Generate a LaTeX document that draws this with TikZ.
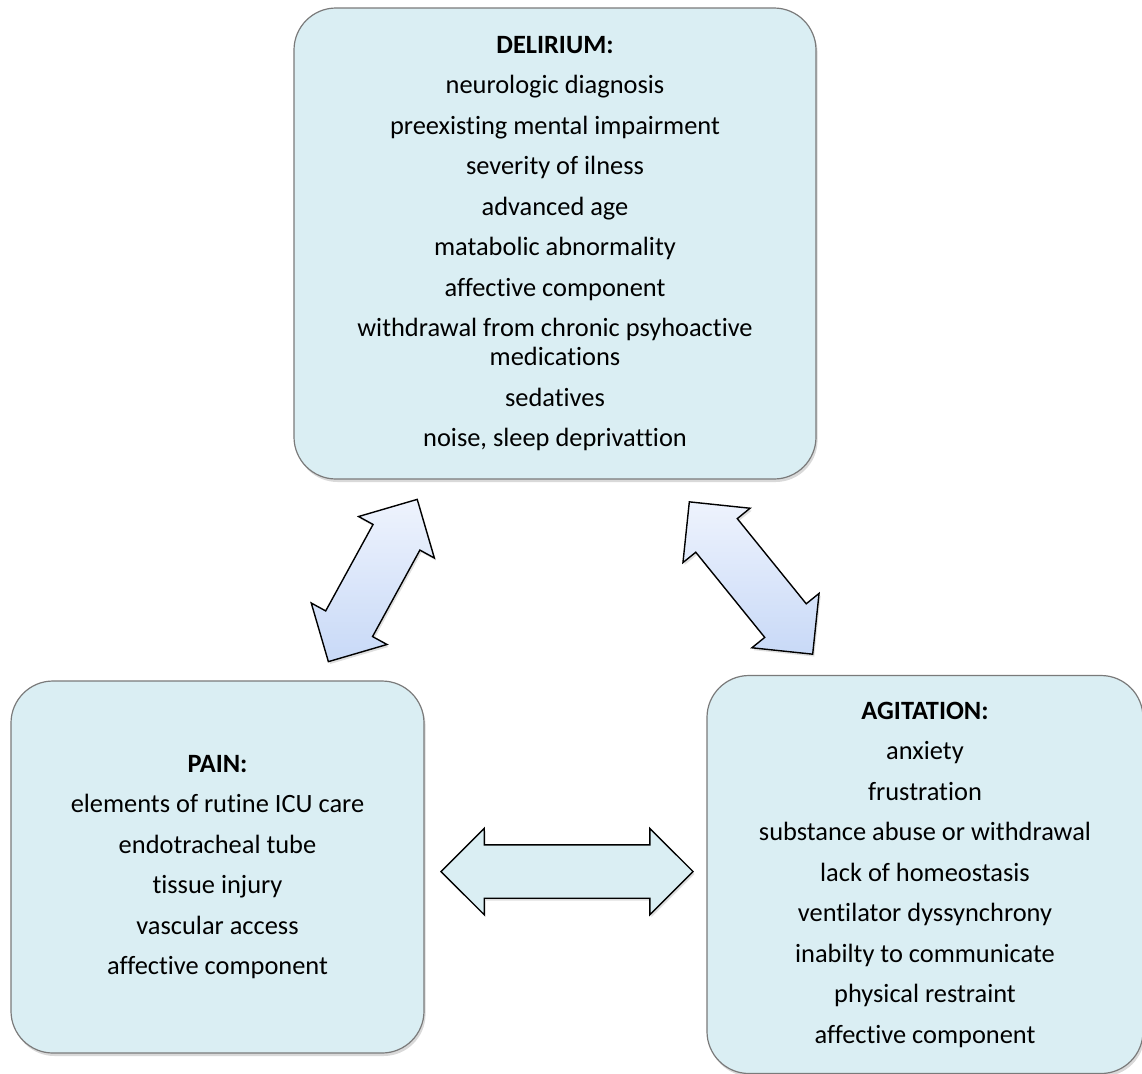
\documentclass[tikz,border=0pt]{standalone}
\usepackage{fontspec}
\setmainfont{Carlito}[Ligatures=NoCommon]
\usepackage{tikz}
\usetikzlibrary{shapes.arrows,shadows}
\definecolor{boxfill}{HTML}{DAEEF3}
\definecolor{boxline}{HTML}{7A7A7A}
\definecolor{arrtop}{HTML}{EEF3FD}
\definecolor{arrbot}{HTML}{C8D9F7}
\tikzset{factor/.style={draw=boxline, fill=boxfill, line width=0.6pt, rounded corners=21pt, align=center, inner sep=0pt, font=\fontsize{13.2}{20.25}\selectfont, drop shadow={opacity=0.3, shadow xshift=0.8pt, shadow yshift=-1.5pt}}}
\tikzset{link/.style={draw=black, line width=0.7pt, double arrow, double arrow tip angle=90, double arrow head extend=8.25pt, inner xsep=0pt, inner ysep=13pt, drop shadow={opacity=0.25, shadow xshift=0.8pt, shadow yshift=-1.2pt}}}
\tikzset{linkshade/.style={top color=arrtop, bottom color=arrbot}}

\begin{document}
\begin{tikzpicture}[x=0.5pt,y=-0.5pt]
\useasboundingbox (0,0) rectangle (1142,1073);
\node [factor, minimum width=261pt, minimum height=235.5pt] (delirium) at (555,243.5) {\textbf{DELIRIUM:}\\ neurologic diagnosis\\ preexisting mental impairment\\ severity of ilness\\ advanced age\\ matabolic abnormality\\ affective component\\ withdrawal from chronic psyhoactive\\[-5.75pt] medications\\ sedatives\\ noise, sleep deprivattion};
\node [factor, minimum width=206.5pt, minimum height=186pt] (pain) at (217.5,867) {\textbf{PAIN:}\\ elements of rutine ICU care\\ endotracheal tube\\ tissue injury\\ vascular access\\ affective component};
\node [factor, minimum width=218pt, minimum height=199pt] (agitation) at (925,874.5) {\textbf{AGITATION:}\\ anxiety\\ frustration\\ substance abuse or withdrawal\\ lack of homeostasis\\ ventilator dyssynchrony\\ inabilty to communicate\\ physical restraint\\ affective component};
%
\node [link, linkshade, minimum height=92.5pt, rotate=61.3] (delpain) at (372.8,580.5) {};
\node [link, linkshade, minimum height=98pt, rotate=-51] (delagit) at (751,578) {};
\node [link, fill=boxfill, minimum height=126pt] (painagit) at (567,871.5) {};
\end{tikzpicture}
\end{document}
